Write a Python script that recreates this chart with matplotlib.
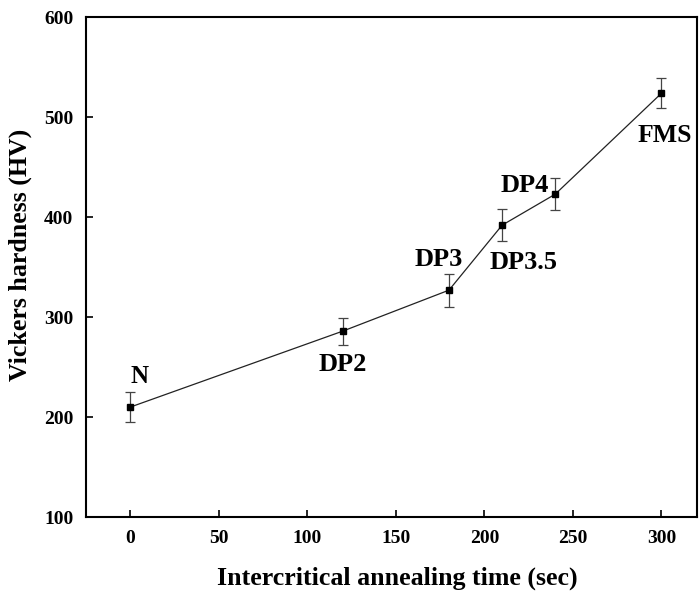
import matplotlib.pyplot as plt

# data
tiempo = [0, 120, 180, 210, 240, 300]
dureza = [210, 286, 327, 392, 423, 524]
error = [15, 13.5, 16.5, 16, 16, 15]
etiquetas = ['N', 'DP2', 'DP3', 'DP3.5', 'DP4', 'FMS']
pos_etiquetas = [(5, 241), (120, 253), (174, 358), (222, 355), (223, 432), (302, 482)]
tam_etiquetas = [18, 19, 19, 19, 19, 18.5]

plt.rcParams['font.family'] = ['Liberation Serif', 'DejaVu Serif']
plt.rcParams['font.weight'] = 'bold'

fig = plt.figure(figsize=(6.99, 5.95), dpi=100)
ax = fig.add_axes([0.123, 0.131, 0.874, 0.840])

ax.errorbar(tiempo, dureza, yerr=error, color='#222222', linewidth=0.9,
            marker='s', markersize=4.2, markerfacecolor='black', markeredgecolor='black',
            ecolor='#444444', elinewidth=0.9, capsize=3.6, capthick=0.9)

for (x, y), texto, tam in zip(pos_etiquetas, etiquetas, tam_etiquetas):
    ax.text(x, y, texto, fontsize=tam, fontweight='bold', ha='center', va='center')

ax.set_xlim(-25, 320)
ax.set_ylim(100, 600)
ax.set_xticks([0, 50, 100, 150, 200, 250, 300])
ax.set_yticks([100, 200, 300, 400, 500, 600])
ax.tick_params(direction='in', length=5, width=1.2, labelsize=14, pad=9)
for lab in ax.get_xticklabels() + ax.get_yticklabels():
    lab.set_fontweight('bold')
for s in ax.spines.values():
    s.set_linewidth(1.5)

ax.set_xlabel('Intercritical annealing time (sec)', fontsize=18.6, fontweight='bold', labelpad=13)
ax.set_ylabel('Vickers hardness (HV)', fontsize=18.6, fontweight='bold', labelpad=5)
ax.xaxis.set_label_coords(0.509, -0.1)
ax.yaxis.set_label_coords(-0.088, 0.525)

plt.savefig('out.png')
